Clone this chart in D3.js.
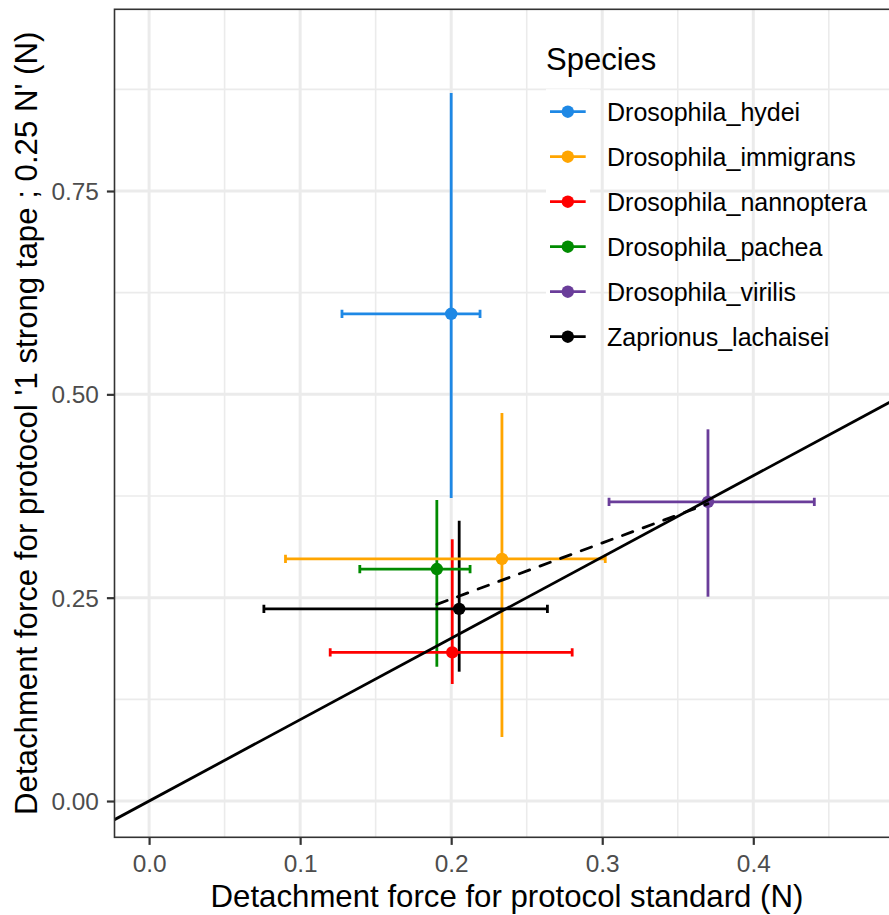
<!DOCTYPE html>
<html>
<head>
<meta charset="utf-8">
<script src="https://cdn.jsdelivr.net/npm/d3@7"></script>
<style>
  html, body { margin: 0; padding: 0; background: #fff; }
  svg { display: block; font-family: "Liberation Sans", Arial, Helvetica, sans-serif; }
</style>
</head>
<body>
<svg id="chart" width="889" height="915"></svg>
<script>
// ---- data ----
const species = ["Drosophila_hydei", "Drosophila_immigrans", "Drosophila_nannoptera",
                 "Drosophila_pachea", "Drosophila_virilis", "Zaprionus_lachaisei"];
const colors  = ["#1E88E5", "#FFA500", "#FF0000", "#008B00", "#6A3D9A", "#000000"];
const xMean = [0.2000, 0.2336, 0.2007, 0.1905, 0.3700, 0.2053];
const yMean = [0.5990, 0.2976, 0.1828, 0.2852, 0.3678, 0.2362];
const xLow  = [0.1277, 0.0903, 0.1199, 0.1395, 0.3045, 0.0760];
const xHigh = [0.2191, 0.3020, 0.2801, 0.2125, 0.4404, 0.2637];
const yLow  = [0.3726, 0.0787, 0.1439, 0.1651, 0.2512, 0.1590];
const yHigh = [0.8705, 0.4770, 0.3218, 0.3701, 0.4570, 0.3446];
// regression (dashed) segment endpoints
const fitX = [0.1905, 0.3700];
const fitY = [0.2418, 0.3655];
// reference line y = x
const refSlope = 1, refIntercept = 0;
const xTicks = [0, 0.1, 0.2, 0.3, 0.4];
const xMinor = [0.05, 0.15, 0.25, 0.35, 0.45];
const yTicks = [0, 0.25, 0.5, 0.75];
const yMinor = [0.125, 0.375, 0.625, 0.875];
const xTitle = "Detachment force for protocol standard (N)";
const yTitle = "Detachment force for protocol '1 strong tape ; 0.25 N' (N)";
const legendTitle = "Species";

// ---- layout ----
const P = { left: 114.5, right: 899.5, top: 9.3, bottom: 837.3 };
const x = d3.scaleLinear().domain([-0.0229, 0.4968]).range([P.left, P.right]);
const y = d3.scaleLinear().domain([-0.0446, 0.9734]).range([P.bottom, P.top]);

const svg = d3.select("#chart");
svg.append("rect").attr("width", 889).attr("height", 915).attr("fill", "#fff");

svg.append("defs").append("clipPath").attr("id", "clip")
  .append("rect").attr("x", P.left).attr("y", P.top)
  .attr("width", P.right - P.left).attr("height", P.bottom - P.top);

const panel = svg.append("g").attr("clip-path", "url(#clip)");
// grid
panel.selectAll(".gxm").data(xMinor).join("line")
  .attr("x1", d => x(d)).attr("x2", d => x(d)).attr("y1", P.top).attr("y2", P.bottom)
  .attr("stroke", "#EBEBEB").attr("stroke-width", 1.6);
panel.selectAll(".gym").data(yMinor).join("line")
  .attr("y1", d => y(d)).attr("y2", d => y(d)).attr("x1", P.left).attr("x2", P.right)
  .attr("stroke", "#EBEBEB").attr("stroke-width", 1.6);
panel.selectAll(".gx").data(xTicks).join("line")
  .attr("x1", d => x(d)).attr("x2", d => x(d)).attr("y1", P.top).attr("y2", P.bottom)
  .attr("stroke", "#EBEBEB").attr("stroke-width", 3);
panel.selectAll(".gy").data(yTicks).join("line")
  .attr("y1", d => y(d)).attr("y2", d => y(d)).attr("x1", P.left).attr("x2", P.right)
  .attr("stroke", "#EBEBEB").attr("stroke-width", 3);

const idx = d3.range(species.length);
const lw = 2.8;
// vertical error ranges
panel.selectAll(".vr").data(idx).join("line")
  .attr("x1", i => x(xMean[i])).attr("x2", i => x(xMean[i]))
  .attr("y1", i => y(yLow[i])).attr("y2", i => y(yHigh[i]))
  .attr("stroke", i => colors[i]).attr("stroke-width", lw);
// horizontal error bars with caps
const capH = 0.0051;
const hb = panel.selectAll(".hb").data(idx).join("g")
  .attr("stroke", i => colors[i]).attr("stroke-width", lw).attr("fill", "none");
hb.append("path").attr("d", i => {
  const x0 = x(xLow[i]), x1 = x(xHigh[i]), yc = y(yMean[i]);
  const yt = y(yMean[i] + capH), yb = y(yMean[i] - capH);
  return `M${x0},${yt}L${x0},${yb}M${x0},${yc}L${x1},${yc}M${x1},${yt}L${x1},${yb}`;
});
// points
panel.selectAll(".pt").data(idx).join("circle")
  .attr("cx", i => x(xMean[i])).attr("cy", i => y(yMean[i])).attr("r", 6.2)
  .attr("fill", i => colors[i]);
// reference line
const xd = x.domain();
panel.append("line")
  .attr("x1", x(xd[0])).attr("y1", y(refIntercept + refSlope * xd[0]))
  .attr("x2", x(xd[1])).attr("y2", y(refIntercept + refSlope * xd[1]))
  .attr("stroke", "#000").attr("stroke-width", lw);
// dashed fit
panel.append("line")
  .attr("x1", x(fitX[0])).attr("y1", y(fitY[0]))
  .attr("x2", x(fitX[1])).attr("y2", y(fitY[1]))
  .attr("stroke", "#000").attr("stroke-width", lw)
  .attr("stroke-dasharray", "11,11").attr("stroke-linecap", "round");

// panel border
svg.append("rect").attr("x", P.left).attr("y", P.top)
  .attr("width", P.right - P.left).attr("height", P.bottom - P.top)
  .attr("fill", "none").attr("stroke", "#333333").attr("stroke-width", 1.6);

// axes
const xAxis = svg.append("g").attr("transform", `translate(0,${P.bottom})`)
  .call(d3.axisBottom(x).tickValues(xTicks).tickFormat(d3.format(".1f")).tickSize(7.6).tickPadding(9.3));
const yAxis = svg.append("g").attr("transform", `translate(${P.left},0)`)
  .call(d3.axisLeft(y).tickValues(yTicks).tickFormat(d3.format(".2f")).tickSize(7.6).tickPadding(8));
[xAxis, yAxis].forEach(a => {
  a.select(".domain").remove();
  a.selectAll(".tick line").attr("stroke", "#333333").attr("stroke-width", 2.2);
  a.selectAll(".tick text").attr("fill", "#4D4D4D").attr("font-size", 24.4)
    .attr("font-family", "Liberation Sans, Arial, sans-serif");
});
yAxis.selectAll(".tick text").attr("dy", "0.35em");

// axis titles
svg.append("text").attr("x", (P.left + P.right) / 2).attr("y", 906.5)
  .attr("text-anchor", "middle").attr("font-size", 31.2).attr("fill", "#000").text(xTitle);
svg.append("text").attr("transform", `translate(37,${(P.top + P.bottom) / 2}) rotate(-90)`)
  .attr("text-anchor", "middle").attr("font-size", 31.2).attr("fill", "#000").text(yTitle);

// legend
const L = { x: 546, titleY: 70, firstY: 111.7, step: 45 };
const leg = svg.append("g");
leg.append("text").attr("x", L.x).attr("y", L.titleY).attr("font-size", 31).text(legendTitle);
const items = leg.selectAll(".li").data(idx).join("g")
  .attr("transform", i => `translate(0,${L.firstY + i * L.step})`);
items.append("rect").attr("x", L.x).attr("y", -L.step / 2).attr("width", 44).attr("height", L.step)
  .attr("fill", "#fff");
items.append("line").attr("x1", 550).attr("x2", 585.7).attr("y1", 0).attr("y2", 0)
  .attr("stroke", i => colors[i]).attr("stroke-width", lw);
items.append("circle").attr("cx", 567.8).attr("cy", 0).attr("r", 6.2).attr("fill", i => colors[i]);
items.append("text").attr("x", 607).attr("y", 0).attr("dy", "0.36em")
  .attr("font-size", 25).attr("fill", "#000").text(i => species[i]);
</script>
</body>
</html>
